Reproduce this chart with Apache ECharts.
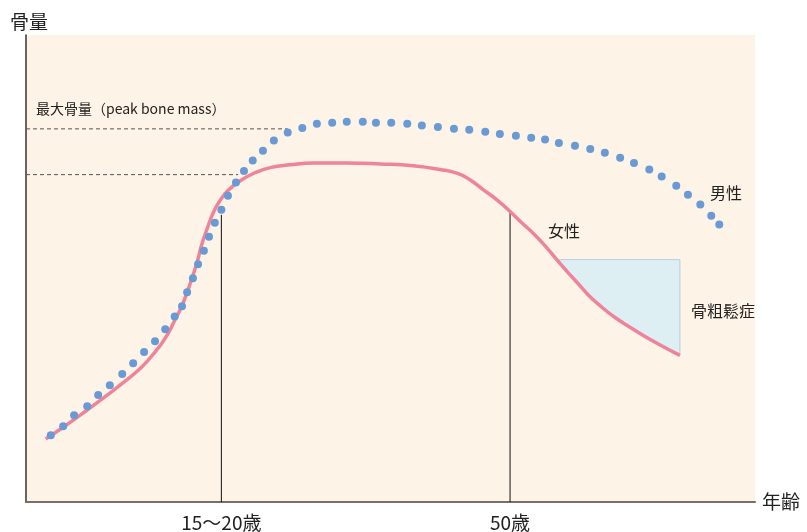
<!DOCTYPE html>
<html><head><meta charset="utf-8">
<script src="https://cdn.jsdelivr.net/npm/echarts@6/dist/echarts.min.js"></script>
<style>html,body{margin:0;padding:0;background:#fff}#c{width:807px;height:532px}</style>
</head><body><div id="c"></div>
<script>
// x: relative age position (0-100), y: relative bone mass (0-100)
const maleX = [3.4,5.1,6.6,8.4,9.9,11.5,13.2,14.7,16.2,17.7,19.1,20.4,21.4,22.1,22.9,23.6,24.4,25.1,25.9,26.8,27.7,28.8,29.9,31.1,32.5,34.0,35.9,37.9,39.9,42.0,44.0,46.2,48.0,50.1,52.3,54.3,56.5,58.7,60.8,63.0,65.0,67.2,69.3,71.2,73.1,75.3,77.4,79.4,81.5,83.4,85.5,87.2,89.2,90.8,92.5,94.0,95.1];
const maleY = [14.3,16.2,18.6,20.5,22.9,25.0,27.4,29.7,32.1,34.4,37.0,39.7,41.9,44.9,47.9,50.9,53.8,56.8,59.8,62.6,65.6,68.4,70.9,73.1,75.2,77.4,79.1,80.1,81.0,81.2,81.4,81.4,81.2,81.2,81.0,80.6,80.3,79.9,79.7,79.3,78.8,78.4,78.0,77.6,76.9,76.3,75.6,74.8,73.7,72.6,71.2,69.7,67.7,65.8,63.7,61.3,59.4];
const femaleX = [2.7,5.1,8.4,11.5,13.6,15.4,17.0,18.4,19.5,20.4,21.3,22.1,22.8,23.5,24.1,24.8,25.7,26.6,27.7,29.4,31.4,33.5,36.2,39.4,44.0,48.6,53.1,56.8,59.3,60.9,62.7,64.6,66.4,68.0,69.6,71.3,72.8,74.2,75.6,77.1,78.7,80.8,83.3,86.3,89.7];
const femaleY = [13.5,16.0,19.7,23.3,25.9,28.2,30.8,33.5,36.1,38.9,41.7,44.9,48.1,51.5,55.1,58.3,62.0,64.5,66.7,68.8,70.5,71.6,72.2,72.6,72.6,72.4,72.0,71.2,70.3,69.0,66.9,64.7,62.2,59.8,57.5,54.7,51.9,49.4,47.0,44.4,42.1,39.5,37.0,34.2,31.4];
const osteoTop = 51.9;               // top edge of osteoporosis area
const osteoStartX = 72.8, osteoEndX = 89.7;
const peakMaleY = 79.9, peakMaleEndX = 35.9;     // dashed peak lines
const peakFemaleY = 70.1, peakFemaleEndX = 29.1;
const markX = [26.8, 66.4];          // vertical markers
const markTopY = [61.5, 62.2];
const tickLabels = ['15～20歳', '50歳'];

const FONT = "'Noto Sans CJK JP','Noto Sans CJK SC',sans-serif";
const maleData = maleX.map((x,i)=>[x, maleY[i]]);
const femaleData = femaleX.map((x,i)=>[x, femaleY[i]]);

// osteoporosis polygon: top edge, then down female curve backwards
const osteoPoly = [[osteoStartX, osteoTop],[osteoEndX, osteoTop]];
for (let i = femaleX.length-1; i >= 0; i--) {
  if (femaleX[i] >= osteoStartX - 0.01) osteoPoly.push([femaleX[i], femaleY[i]]);
}

const chart = echarts.init(document.getElementById('c'));
chart.setOption({
  animation: false,
  grid: {left: 26, right: 52, top: 35, bottom: 29, show: true, backgroundColor: '#fdf4e7', borderWidth: 0},
  xAxis: {
    type: 'value', min: 0, max: 100,
    name: '年齢', nameLocation: 'end', nameGap: 7,
    nameTextStyle: {fontFamily: FONT, fontSize: 19, color: '#222', verticalAlign: 'middle'},
    axisLine: {show: true, lineStyle: {color: '#7a6f63', width: 2}},
    axisTick: {show: false},
    splitLine: {show: false},
    axisLabel: {
      show: true, customValues: markX, margin: 11,
      fontFamily: FONT, fontSize: 19, color: '#222',
      formatter: (v) => { const i = markX.indexOf(v); return i >= 0 ? tickLabels[i] : ''; }
    }
  },
  yAxis: {
    type: 'value', min: 0, max: 100,
    name: '骨量', nameLocation: 'end', nameGap: 4,
    nameTextStyle: {fontFamily: FONT, fontSize: 19, color: '#222', align: 'left', padding: [0,0,0,-16]},
    axisLine: {show: true, lineStyle: {color: '#333', width: 1.5}},
    axisTick: {show: false}, axisLabel: {show: false}, splitLine: {show: false}
  },
  series: [
    {
      type: 'custom', silent: true, z: 1,
      renderItem: (params, api) => {
        if (params.dataIndex !== 0) return null;
        const pts = osteoPoly.map(p => api.coord(p));
        return {type: 'polygon', shape: {points: pts, smooth: 0},
          style: {fill: '#ddeff3', stroke: '#b2cfe3', lineWidth: 1}};
      },
      data: [[osteoStartX, osteoTop]]
    },
    {
      type: 'line', silent: true, symbol: 'none', z: 2,
      lineStyle: {color: '#555', width: 1, type: [4,3]},
      data: [[0, peakMaleY],[peakMaleEndX, peakMaleY]]
    },
    {
      type: 'line', silent: true, symbol: 'none', z: 2,
      lineStyle: {color: '#555', width: 1, type: [4,3]},
      data: [[0, peakFemaleY],[peakFemaleEndX, peakFemaleY]]
    },
    {
      type: 'line', silent: true, symbol: 'none', z: 2,
      lineStyle: {color: '#111', width: 1},
      data: [[markX[0], 0],[markX[0], markTopY[0]]]
    },
    {
      type: 'line', silent: true, symbol: 'none', z: 2,
      lineStyle: {color: '#111', width: 1},
      data: [[markX[1], 0],[markX[1], markTopY[1]]]
    },
    {
      name: '女性', type: 'line', symbol: 'none', smooth: 0.5, z: 3,
      lineStyle: {color: '#ee8399', width: 3.5},
      data: femaleData
    },
    {
      name: '男性', type: 'scatter', symbolSize: 8, z: 4,
      itemStyle: {color: '#6a9ad5', opacity: 1},
      data: maleData
    }
  ],
  graphic: [
    {type: 'text', left: 36, top: 102, style: {text: '最大骨量（peak bone mass）', font: '14px ' + FONT, fill: '#222'}},
    {type: 'text', x: 726, y: 193, style: {text: '男性', font: '16px ' + FONT, fill: '#222', align: 'center', verticalAlign: 'middle'}},
    {type: 'text', x: 564, y: 231, style: {text: '女性', font: '16px ' + FONT, fill: '#222', align: 'center', verticalAlign: 'middle'}},
    {type: 'text', x: 723, y: 311, style: {text: '骨粗鬆症', font: '16px ' + FONT, fill: '#222', align: 'center', verticalAlign: 'middle'}}
  ]
});
</script></body></html>
